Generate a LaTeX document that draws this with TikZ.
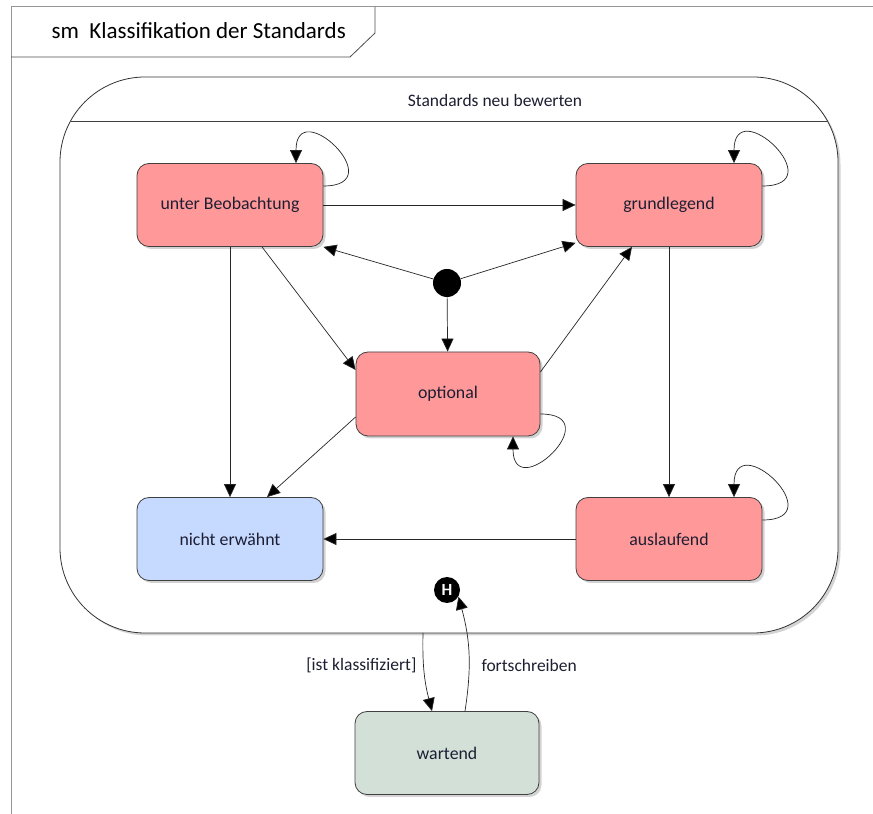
\documentclass[tikz,border=0pt]{standalone}
\usepackage{fontspec}
\setmainfont{Carlito}
\usetikzlibrary{arrows.meta,shadows}
\definecolor{redfill}{RGB}{255,153,153}
\definecolor{bluefill}{RGB}{198,217,255}
\definecolor{greenfill}{RGB}{210,224,216}
\definecolor{framegray}{RGB}{150,150,150}
\definecolor{txt}{RGB}{30,30,50}
\tikzset{
  statebox/.style={draw=black!75, line width=0.8pt, rounded corners=12pt,
    minimum width=186pt, minimum height=83pt, font=\fontsize{17.8}{21}\selectfont, text=txt,
    drop shadow={opacity=0.35, shadow xshift=2.5pt, shadow yshift=-2.5pt}},
  arr/.style={draw=black!85, line width=0.7pt, -{Triangle[length=13pt,width=12pt,fill=black]}},
  lbl/.style={font=\fontsize{17.5}{21}\selectfont, text=txt}
}
\begin{document}
\begin{tikzpicture}[x=1pt,y=1pt]
\useasboundingbox (0,0) rectangle (873,814);
% diagram frame
\draw[framegray, line width=1pt] (873,807) -- (11,807) -- (11,0);
\draw[black!70, line width=0.8pt] (375,807) -- (375,781) -- (350,757) -- (11,757);
\node[font=\fontsize{23}{26}\selectfont, anchor=west] (title) at (48,783) {sm\ \ Klassifikation der Standards};
% composite state
\node[draw=black!80, line width=0.8pt, rounded corners=85pt, minimum width=778pt, minimum height=556pt,
  fill=white, drop shadow={opacity=0.35, shadow xshift=2.5pt, shadow yshift=-2.5pt}] (outer) at (449,459) {};
\draw[black!75, line width=0.8pt] (70.5,693) -- (827.5,693);
\node[lbl] (otitle) at (495,714) {Standards neu bewerten};
% states
\node[statebox, fill=redfill] (ub) at (230,609) {unter Beobachtung};
\node[statebox, fill=redfill] (gr) at (669,609) {grundlegend};
\node[statebox, fill=redfill, minimum width=184pt, minimum height=84pt] (op) at (448,420) {optional};
\node[statebox, fill=bluefill] (ne) at (230,275) {nicht erwähnt};
\node[statebox, fill=redfill] (au) at (669,275) {auslaufend};
\node[statebox, fill=greenfill, minimum width=184pt] (wa) at (447,61) {wartend};
% pseudo states
\node[circle, fill=black, minimum size=28pt, inner sep=0pt] (init) at (447,531) {};
\node[circle, fill=black, minimum size=26pt, inner sep=0pt, text=white, font=\fontsize{17}{20}\selectfont\bfseries] (H) at (447,224) {H};
\coordinate (hs) at (423,181);
% transitions
\draw[arr] (init) -- (ub.south east);
\draw[arr] (init) -- ([yshift=4pt]gr.south west);
\draw[arr] (init) -- (op);
\draw[arr] (ub.east) -- (gr.west);
\draw[arr] ([xshift=32pt]ub.south) -- ([yshift=24pt]op.west);
\draw[arr] (ub.south) -- (ne.north);
\draw[arr] ([yshift=-23pt]op.west) -- ([xshift=37pt]ne.north);
\draw[arr] ([yshift=22pt]op.east) -- ([xshift=-37pt]gr.south);
\draw[arr] (gr.south) -- (au.north);
\draw[arr] (au.west) -- (ne.east);
% self loops
\draw[arr] ([yshift=19pt]ub.east) to[out=0,in=90,looseness=5] ([xshift=66pt]ub.north);
\draw[arr] ([yshift=19pt]gr.east) to[out=0,in=90,looseness=5] ([xshift=65pt]gr.north);
\draw[arr] ([yshift=19pt]au.east) to[out=0,in=90,looseness=5] ([xshift=65pt]au.north);
\draw[arr] ([yshift=-20pt]op.east) to[out=0,in=-90,looseness=5] ([xshift=65pt]op.south);
% history transitions
\draw[arr] (hs) to[bend right=8] ([xshift=-15pt]wa.north);
\draw[arr] ([xshift=18pt]wa.north) to[bend right=12] (H.-30);
\node[lbl, anchor=east] (l1) at (420,149) {[ist klassifiziert]};
\node[lbl, anchor=west] (l2) at (478,149) {fortschreiben};
\end{tikzpicture}
\end{document}
